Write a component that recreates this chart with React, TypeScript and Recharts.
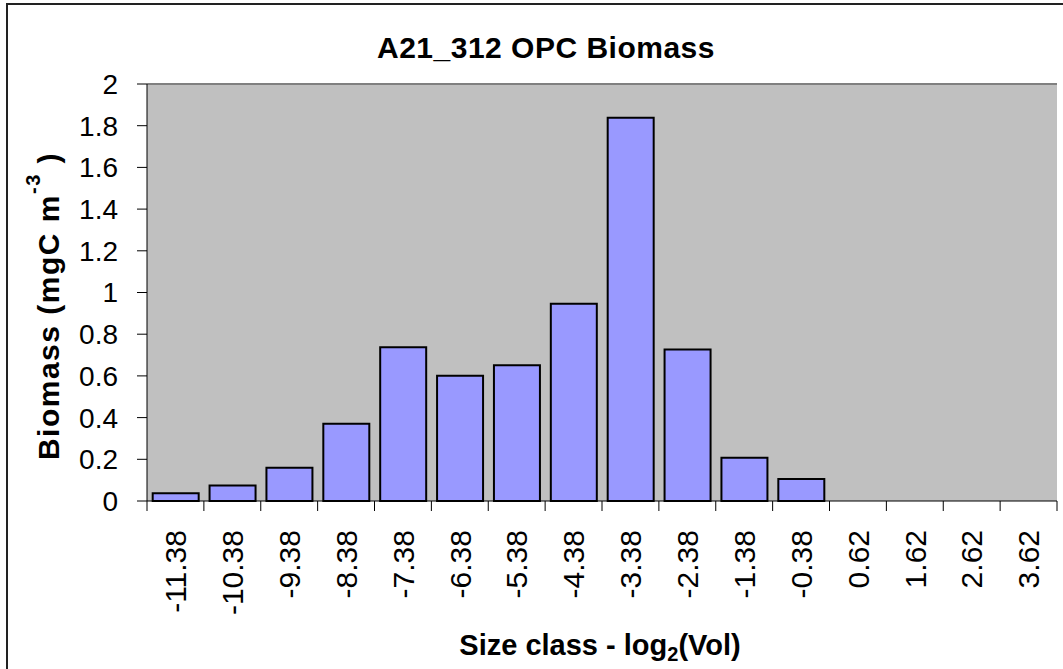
import React from "react";
import { BarChart, Bar, XAxis, YAxis, CartesianGrid, ReferenceLine } from "recharts";

const categories = ["-11.38", "-10.38", "-9.38", "-8.38", "-7.38", "-6.38", "-5.38", "-4.38", "-3.38", "-2.38", "-1.38", "-0.38", "0.62", "1.62", "2.62", "3.62"];
const biomass = [0.037, 0.074, 0.16, 0.371, 0.737, 0.601, 0.651, 0.946, 1.838, 0.727, 0.208, 0.105, 0, 0, 0, 0];
const yTicks = [0, 0.2, 0.4, 0.6, 0.8, 1, 1.2, 1.4, 1.6, 1.8, 2];

const title = "A21_312 OPC Biomass";

const data = categories.map((c, i) => ({ size: c, biomass: biomass[i] }));

const W = 1063;
const H = 669;
const margin = { top: 84, right: 6, bottom: 48, left: 67 };
const yAxisWidth = 80;
const xAxisHeight = 120;
const plotWidth = W - margin.left - margin.right - yAxisWidth;
const band = plotWidth / categories.length;
const FONT = "'Liberation Sans', Arial, Helvetica, sans-serif";

const XTick = (props: any) => {
  const { x, y, payload, index } = props;
  const left = x - band / 2;
  const right = x + band / 2;
  const ty = y + 29;
  return (
    <g>
      <line x1={left} y1={y} x2={left} y2={y + 10} stroke="#000" strokeWidth={1} />
      {index === categories.length - 1 && (
        <line x1={right} y1={y} x2={right} y2={y + 10} stroke="#000" strokeWidth={1} />
      )}
      <text
        x={x}
        y={ty}
        dy="0.36em"
        transform={`rotate(-90, ${x}, ${ty})`}
        textAnchor="end"
        fontSize={30}
        fontFamily={FONT}
        fill="#000"
      >
        {payload.value}
      </text>
    </g>
  );
};

export default function App() {
  return (
    <div style={{ position: "absolute", left: 0, top: 0, width: W, height: H, background: "#fff", overflow: "hidden" }}>
      <BarChart width={W} height={H} data={data} margin={margin} barCategoryGap="10%">
        <CartesianGrid horizontal={false} vertical={false} fill="#C0C0C0" />
        <XAxis
          dataKey="size"
          height={xAxisHeight}
          interval={0}
          tickSize={0}
          tickMargin={0}
          tickLine={false}
          axisLine={{ stroke: "#000", strokeWidth: 1 }}
          tick={<XTick />}
        />
        <YAxis
          width={yAxisWidth}
          domain={[0, 2]}
          ticks={yTicks}
          interval={0}
          tickSize={10}
          tickMargin={19}
          axisLine={{ stroke: "#000", strokeWidth: 1 }}
          tickLine={{ stroke: "#000", strokeWidth: 1 }}
          tick={{ fontSize: 28, fill: "#000", fontFamily: FONT }}
          tickFormatter={(v: number) => String(v)}
        />
        <YAxis
          yAxisId="right"
          orientation="right"
          width={0}
          domain={[0, 2]}
          tick={false}
          tickLine={false}
          axisLine={{ stroke: "#808080", strokeWidth: 2 }}
        />
        <ReferenceLine y={2} stroke="#808080" strokeWidth={2} />
        <Bar dataKey="biomass" fill="#9999FF" stroke="#000" strokeWidth={2} isAnimationActive={false} />
      </BarChart>
      <svg width={W} height={H} style={{ position: "absolute", left: 0, top: 0, pointerEvents: "none" }}>
        <rect x={7} y={4} width={W + 40} height={H + 40} fill="none" stroke="#222" strokeWidth={2} />
        <text x={546} y={58} textAnchor="middle" fontSize={30} letterSpacing={0.5} fontWeight="bold" fontFamily={FONT} fill="#000">
          {title}
        </text>
        <text x={600} y={655} textAnchor="middle" fontSize={29} fontWeight="bold" fontFamily={FONT} fill="#000">
          Size class - log
          <tspan fontSize={20} dy={6}>2</tspan>
          <tspan dy={-6}>(Vol)</tspan>
        </text>
        <text
          transform="rotate(-90)"
          x={-306}
          y={59}
          textAnchor="middle"
          fontSize={30}
          letterSpacing={1.5}
          fontWeight="bold"
          fontFamily={FONT}
          fill="#000"
        >
          Biomass (mgC m
          <tspan fontSize={20} dy={-19}>-3</tspan>
          <tspan dy={19}> )</tspan>
        </text>
      </svg>
    </div>
  );
}
